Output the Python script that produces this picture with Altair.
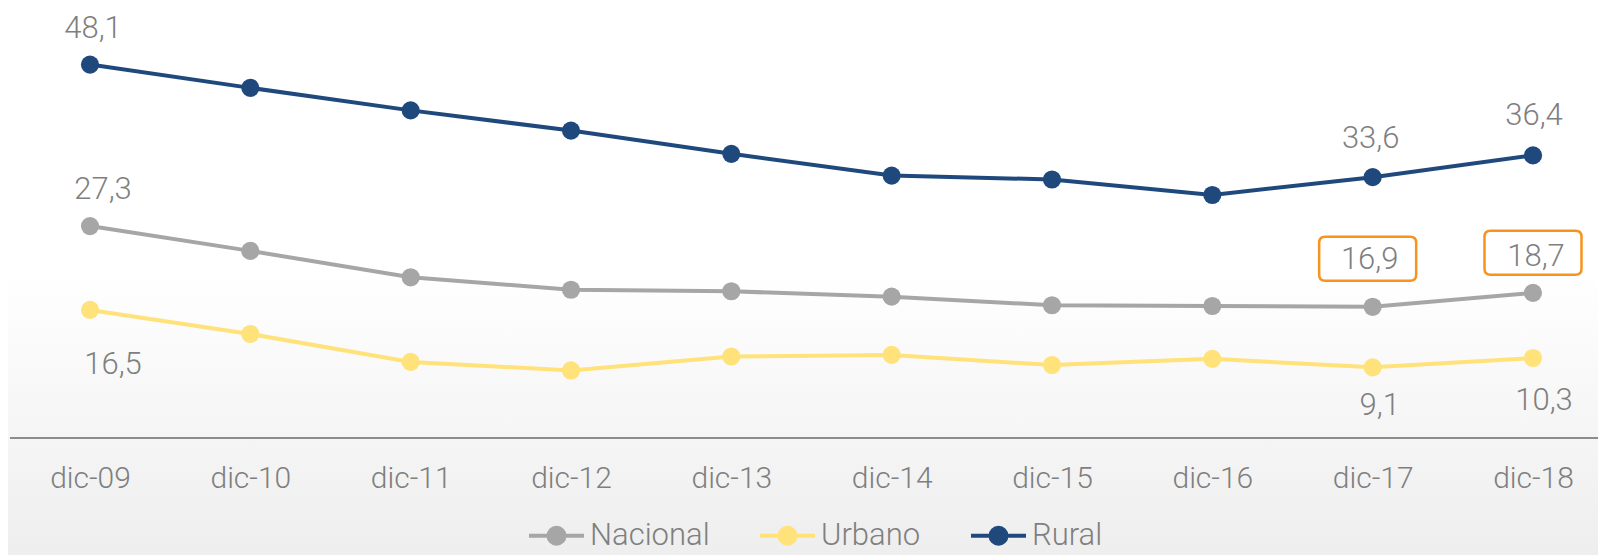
import altair as alt
import pandas as pd

fechas = ["dic-09", "dic-10", "dic-11", "dic-12", "dic-13",
          "dic-14", "dic-15", "dic-16", "dic-17", "dic-18"]
series = ["Nacional", "Urbano", "Rural"]
nacional = [27.3, 24.1, 20.7, 19.1, 18.9, 18.2, 17.1, 17.0, 16.9, 18.7]
urbano = [16.5, 13.4, 9.8, 8.7, 10.5, 10.7, 9.4, 10.2, 9.1, 10.3]
rural = [48.1, 45.1, 42.2, 39.6, 36.6, 33.8, 33.3, 31.3, 33.6, 36.4]
colores = ["#A6A6A6", "#FFE27A", "#1F497D"]

TXT = "#7F7F7F"
ORANGE = "#F7931E"
FONT = "Roboto"

rows = []
for s, vals in zip(series, [nacional, urbano, rural]):
    for f, v in zip(fechas, vals):
        rows.append({"serie": s, "fecha": f, "valor": v,
                     "etiqueta": f"{v:.1f}".replace(".", ",")})
df = pd.DataFrame(rows)

# (serie, fecha, dx, dy) for value labels
label_styles = [
    ("Rural", "dic-09", 3, -36),
    ("Rural", "dic-17", -2, -38),
    ("Rural", "dic-18", 1, -39),
    ("Nacional", "dic-09", 13, -36),
    ("Nacional", "dic-17", -3, -47),
    ("Nacional", "dic-18", 3, -36),
    ("Urbano", "dic-09", 23, 55),
    ("Urbano", "dic-17", 7, 39),
    ("Urbano", "dic-18", 11, 43),
]
box_styles = [
    ("Nacional", "dic-17", -5, -48),
    ("Nacional", "dic-18", 0, -40),
]

W, H = 1586, 427
x_enc = alt.X("fecha:O", sort=fechas,
              scale=alt.Scale(type="point", range=[80, 1523], padding=0),
              axis=alt.Axis(title=None, domain=False, ticks=False, grid=False,
                            labelAngle=0, labelFont=FONT, labelFontSize=30,
                            labelFontWeight=300, labelColor=TXT, zindex=2,
                            labelPadding=40, labelBaseline="middle"))
y_scale = alt.Scale(domain=[0, 55], nice=False, zero=True)
y_enc = alt.Y("valor:Q", scale=y_scale, axis=None)

base = alt.Chart(df)

grad = {"gradient": "linear", "x1": 0, "x2": 0, "y1": 0, "y2": 1,
        "stops": [{"offset": 0, "color": "#FFFFFF"},
                  {"offset": 0.5, "color": "#F6F6F6"},
                  {"offset": 1, "color": "#EDEDED"}]}
bg = alt.Chart(alt.Data(values=[{"a": 1}])).mark_rect(fill=grad).encode(
    x=alt.value(-10), x2=alt.value(1600), y=alt.value(260), y2=alt.value(560))

axis_rule = alt.Chart(alt.Data(values=[{"v": 0}])).mark_rule(
    color="#8C8C8C", strokeWidth=2
).encode(y=alt.Y("v:Q", scale=y_scale, axis=None), x=alt.value(0), x2=alt.value(1600))

legend_path = ("M-2.75,0L2.75,0"
               "M-0.2,0A0.2,0.2 0 1,1 0.2,0A0.2,0.2 0 1,1 -0.2,0"
               "M-0.5,0A0.5,0.5 0 1,1 0.5,0A0.5,0.5 0 1,1 -0.5,0"
               "M-0.8,0A0.8,0.8 0 1,1 0.8,0A0.8,0.8 0 1,1 -0.8,0")

lines = base.mark_line(strokeWidth=4).encode(
    x=x_enc, y=y_enc,
    color=alt.Color("serie:N", sort=series,
                    scale=alt.Scale(domain=series, range=colores),
                    legend=alt.Legend(title=None, orient="none", direction="horizontal",
                                      legendX=531, legendY=509, zindex=2,
                                      symbolType=legend_path, symbolSize=400,
                                      symbolStrokeWidth=4, labelFont=FONT,
                                      labelFontSize=31, labelFontWeight=300,
                                      labelColor=TXT, labelOffset=18,
                                      columnPadding=42, padding=0)),
    detail="serie:N",
)

points = base.mark_circle(size=330, opacity=1).encode(
    x=x_enc, y=y_enc,
    fill=alt.Fill("serie:N", scale=alt.Scale(domain=series, range=colores), legend=None),
)

layers = [bg, axis_rule, lines, points]

box_path = ("M-4.25,-2.2L4.25,-2.2Q4.85,-2.2 4.85,-1.6L4.85,1.6Q4.85,2.2 4.25,2.2"
            "L-4.25,2.2Q-4.85,2.2 -4.85,1.6L-4.85,-1.6Q-4.85,-2.2 -4.25,-2.2Z")
for s, f, dx, dy in box_styles:
    layers.append(
        base.mark_point(shape=box_path, size=400, filled=False, stroke=ORANGE,
                        strokeWidth=2.5, opacity=1, xOffset=dx, yOffset=dy)
        .encode(x=x_enc, y=y_enc)
        .transform_filter((alt.datum.serie == s) & (alt.datum.fecha == f))
    )

for s, f, dx, dy in label_styles:
    layers.append(
        base.mark_text(font=FONT, fontSize=31, fontWeight=300, color=TXT,
                       dx=dx, dy=dy, baseline="middle", align="center")
        .encode(x=x_enc, y=y_enc, text="etiqueta:N")
        .transform_filter((alt.datum.serie == s) & (alt.datum.fecha == f))
    )

chart = alt.layer(*layers).properties(
    width=W, height=H,
    autosize=alt.AutoSizeParams(type="none"),
    padding={"left": 2, "top": 3, "right": 2, "bottom": 117},
    background="white",
).configure(font=FONT).configure_view(strokeWidth=0, stroke=None)

chart.save("out.html", embed_options={"renderer": "svg", "actions": False})
